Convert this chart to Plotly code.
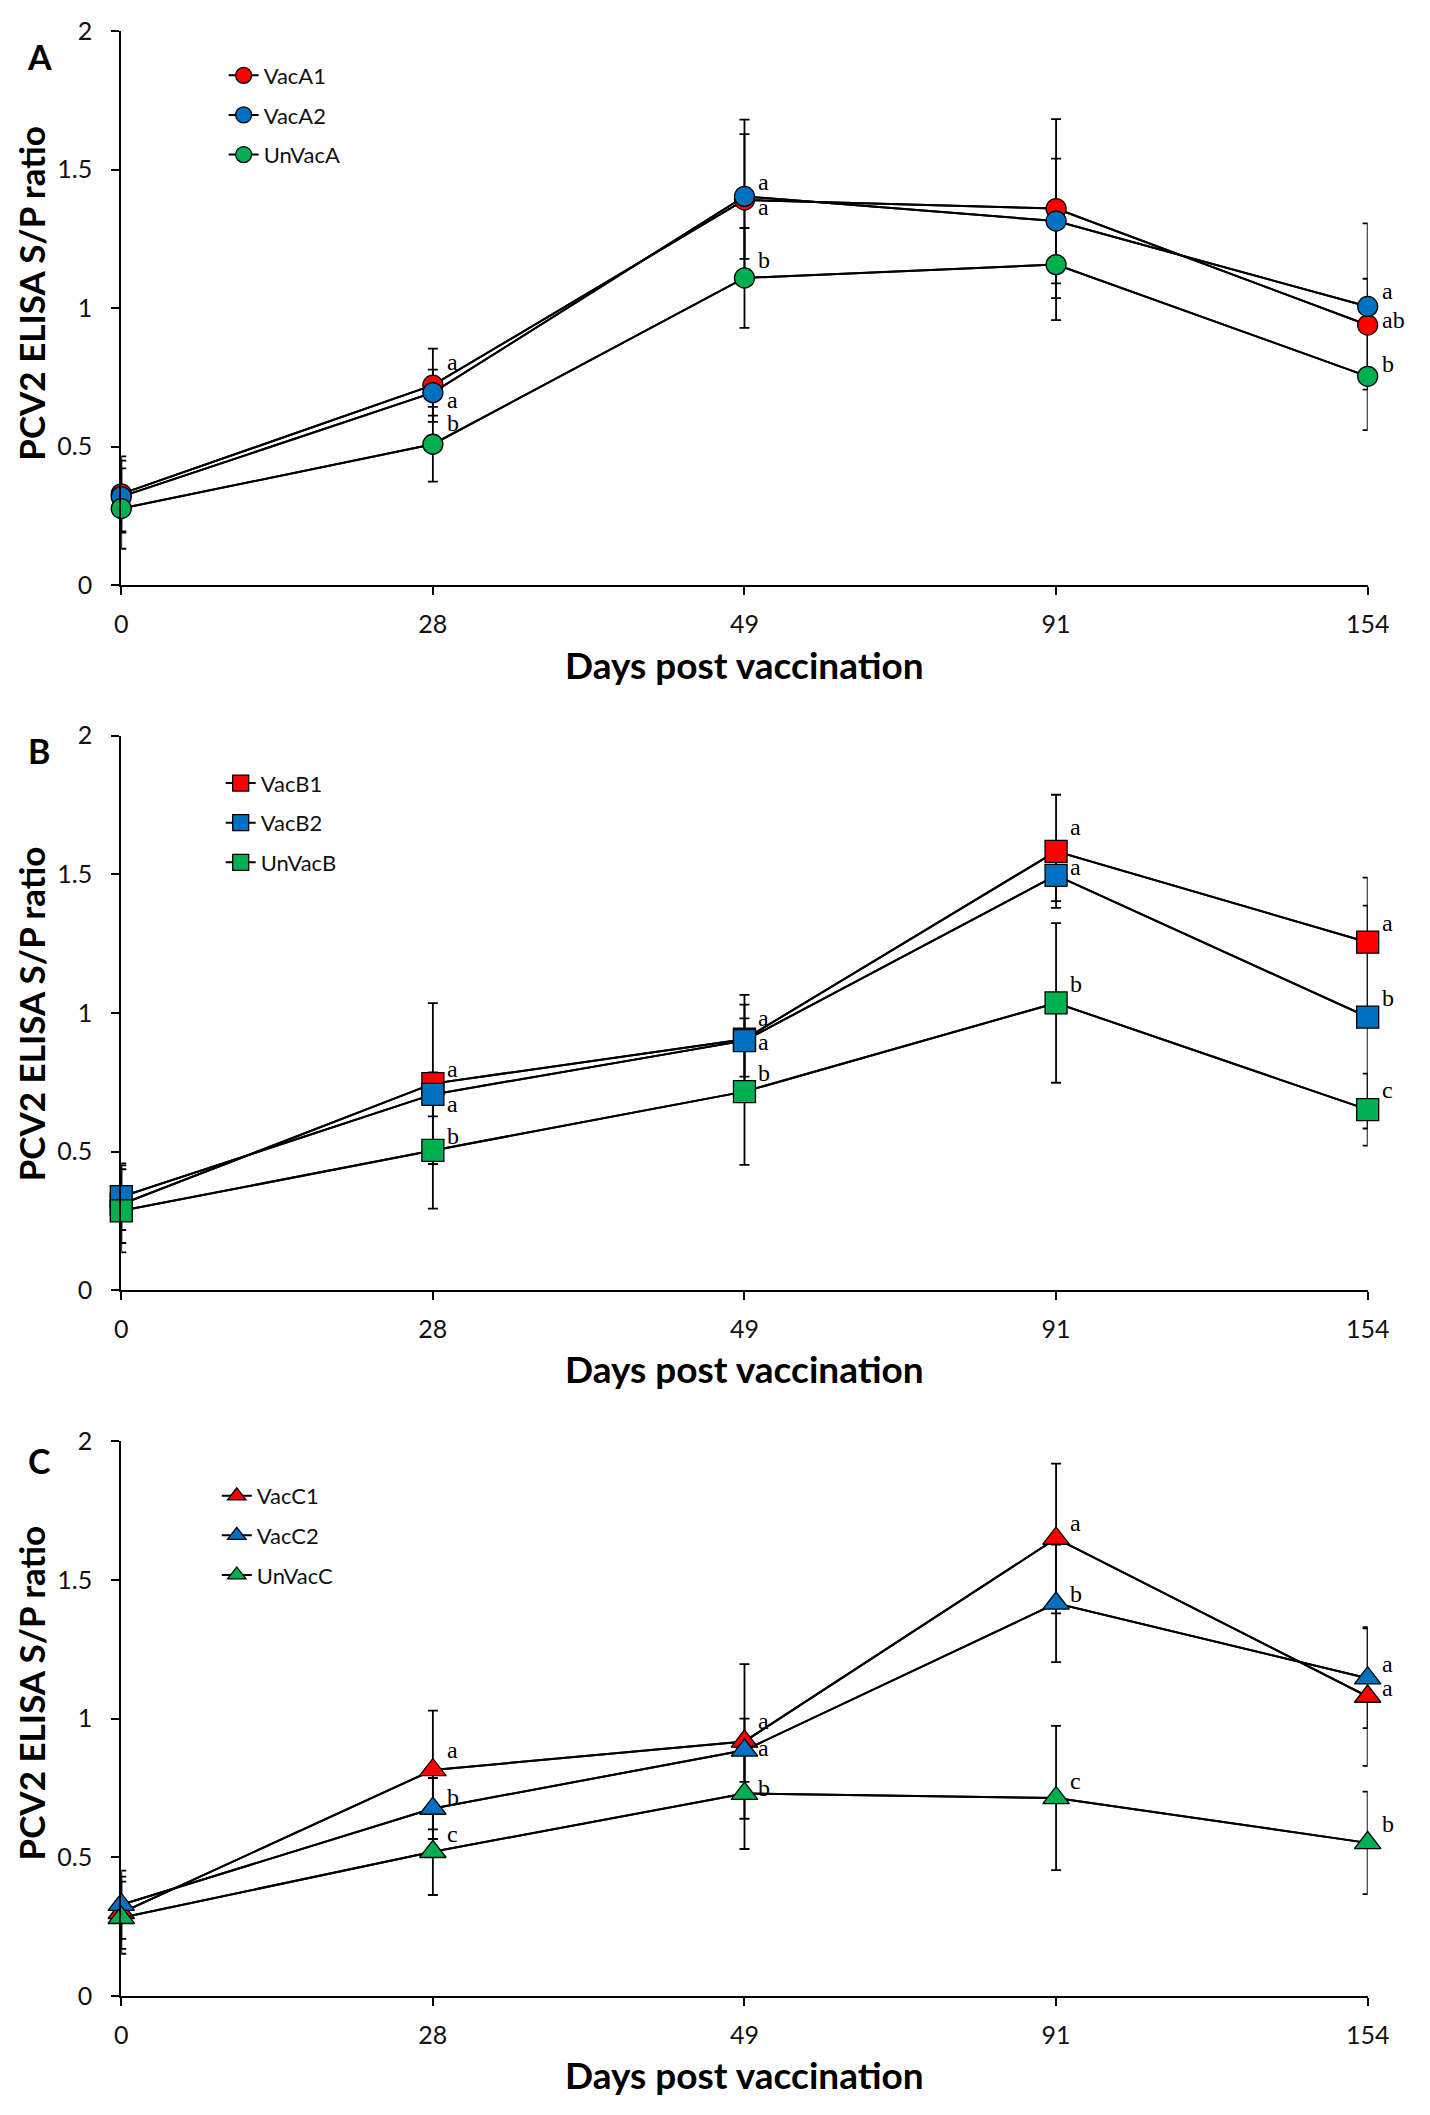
import plotly.graph_objects as go

# days post vaccination (categorical x axis)
days = ["0", "28", "49", "91", "154"]

# Panel A - means and error bars
vac_a1 = [0.33, 0.722, 1.39, 1.359, 0.939]
vac_a1_err = [0.135, 0.132, 0.29, 0.323, 0.167]
vac_a2 = [0.32, 0.695, 1.403, 1.314, 1.006]
vac_a2_err = [0.13, 0.083, 0.225, 0.225, 0.30]
unvac_a = [0.277, 0.509, 1.109, 1.157, 0.754]
unvac_a_err = [0.145, 0.135, 0.18, 0.20, 0.194]

# Panel B
vac_b1 = [0.31, 0.745, 0.905, 1.583, 1.255]
vac_b1_err = [0.14, 0.29, 0.16, 0.204, 0.233]
vac_b2 = [0.337, 0.706, 0.90, 1.496, 0.985]
vac_b2_err = [0.12, 0.079, 0.13, 0.093, 0.402]
unvac_b = [0.286, 0.504, 0.716, 1.036, 0.651]
unvac_b_err = [0.15, 0.21, 0.264, 0.288, 0.13]

# Panel C
vac_c1 = [0.30, 0.815, 0.918, 1.65, 1.08]
vac_c1_err = [0.13, 0.214, 0.279, 0.27, 0.25]
vac_c2 = [0.329, 0.676, 0.886, 1.416, 1.146]
vac_c2_err = [0.123, 0.11, 0.114, 0.212, 0.18]
unvac_c = [0.282, 0.52, 0.73, 0.714, 0.552]
unvac_c_err = [0.13, 0.156, 0.2, 0.26, 0.185]

# significance letters
a_let_day = ["28", "28", "28", "49", "49", "49", "154", "154", "154"]
a_let_y = [0.807, 0.67, 0.584, 1.454, 1.364, 1.173, 1.061, 0.958, 0.799]
a_let_txt = ["a", "a", "b", "a", "a", "b", "a", "ab", "b"]

b_let_day = ["28", "28", "28", "49", "49", "49", "91", "91", "91", "154", "154", "154"]
b_let_y = [0.799, 0.671, 0.555, 0.982, 0.894, 0.783, 1.669, 1.526, 1.106, 1.324, 1.053, 0.722]
b_let_txt = ["a", "a", "b", "a", "a", "b", "a", "a", "b", "a", "b", "c"]

c_let_day = ["28", "28", "28", "49", "49", "49", "91", "91", "91", "154", "154", "154"]
c_let_y = [0.886, 0.719, 0.584, 0.99, 0.894, 0.751, 1.706, 1.451, 0.775, 1.196, 1.109, 0.62]
c_let_txt = ["a", "b", "c", "a", "a", "b", "a", "b", "c", "a", "a", "b"]

colors = ["#FF0000", "#0070C0", "#00B050"]

panels = [
    dict(tag="A", names=["VacA1", "VacA2", "UnVacA"],
         means=[vac_a1, vac_a2, unvac_a], errs=[vac_a1_err, vac_a2_err, unvac_a_err],
         symbol="circle", size=20, letters=(a_let_day, a_let_y, a_let_txt)),
    dict(tag="B", names=["VacB1", "VacB2", "UnVacB"],
         means=[vac_b1, vac_b2, unvac_b], errs=[vac_b1_err, vac_b2_err, unvac_b_err],
         symbol="square", size=22, letters=(b_let_day, b_let_y, b_let_txt)),
    dict(tag="C", names=["VacC1", "VacC2", "UnVacC"],
         means=[vac_c1, vac_c2, unvac_c], errs=[vac_c1_err, vac_c2_err, unvac_c_err],
         symbol="triangle-up", size=23, letters=(c_let_day, c_let_y, c_let_txt)),
]

# pixel layout of the page (page coords); the html body has an 8px margin
PAGE_M = 8
W, H = 1430 - 2 * PAGE_M, 2115 - 2 * PAGE_M
x_left, x_right = 116.5, 1389
tops = [15, 730, 1446]
plot_h = 562.5
ytitle_mid = [281, 1012, 1701]
tag_y = [41, 745, 1465]
legend_mx = [246, 243, 239]
legend_row = [59, 777, 1500]


def px(p):
    return (p - PAGE_M) / W


def py(p):
    return 1 - (p - PAGE_M) / H


fig = go.Figure()
layout = dict(width=W, height=H, margin=dict(l=0, r=0, t=0, b=0),
              paper_bgcolor="white", plot_bgcolor="white", annotations=[])

for i, p in enumerate(panels):
    n = "" if i == 0 else str(i + 1)
    xa, ya = "x" + n, "y" + n
    top = tops[i]
    bot = top + plot_h
    leg = "legend" + n

    # lines + error bars underneath
    for k in range(3):
        fig.add_trace(go.Scatter(
            x=days, y=p["means"][k], xaxis=xa, yaxis=ya, mode="lines",
            line=dict(color="black", width=2), showlegend=False, cliponaxis=False,
            error_y=dict(type="data", array=p["errs"][k], symmetric=True,
                         color="black", thickness=1.8, width=5),
            hoverinfo="skip"))
    # markers on top
    for k in range(3):
        fig.add_trace(go.Scatter(
            x=days, y=p["means"][k], xaxis=xa, yaxis=ya, mode="lines+markers",
            name=p["names"][k], legend=leg, legendgroup=p["names"][k],
            line=dict(color="black", width=2), cliponaxis=False,
            marker=dict(symbol=p["symbol"], size=p["size"], color=colors[k],
                        line=dict(color="black", width=1.3))))

    layout["xaxis" + n] = dict(
        domain=[px(x_left), px(x_right)], anchor=ya, type="category",
        categoryorder="array", categoryarray=days, range=[0, 4],
        showline=True, linecolor="black", linewidth=2, showgrid=False, zeroline=False,
        ticks="outside", ticklen=8, tickwidth=2, tickcolor="black",
        ticklabelstandoff=8,
        tickfont=dict(family="Lato", size=25, color="#111"))
    layout["yaxis" + n] = dict(
        domain=[py(bot), py(top)], anchor=xa, range=[0, 2], tick0=0, dtick=0.5,
        showline=True, linecolor="black", linewidth=2, showgrid=False, zeroline=False,
        ticks="outside", ticklen=8, tickwidth=2, tickcolor="black",
        ticklabelstandoff=14,
        tickfont=dict(family="Lato", size=25, color="#111"))
    layout[leg] = dict(
        x=px(legend_mx[i] - 25), y=py(legend_row[i] - 20), xanchor="left", yanchor="top",
        font=dict(family="Lato", size=22, color="#111"), bgcolor="rgba(0,0,0,0)",
        tracegroupgap=8, traceorder="grouped")

    # significance letters (x given as category index)
    ld, lv, lt = p["letters"]
    for d, v, t in zip(ld, lv, lt):
        layout["annotations"].append(dict(
            x=days.index(d), y=v, xref=xa, yref=ya, text=t, showarrow=False,
            xanchor="left", yanchor="middle", xshift=12,
            font=dict(family="Liberation Serif", size=24, color="black")))

    # axis titles and panel tag
    layout["annotations"].append(dict(
        x=px((x_left + x_right) / 2), y=py(bot + 80), xref="paper", yref="paper",
        text="<b>Days post vaccination</b>", showarrow=False,
        xanchor="center", yanchor="middle",
        font=dict(family="Lato", size=37, color="black")))
    layout["annotations"].append(dict(
        x=px(24), y=py(ytitle_mid[i]), xref="paper", yref="paper",
        text="<b>PCV2 ELISA S/P ratio</b>", showarrow=False, textangle=-90,
        xanchor="center", yanchor="middle",
        font=dict(family="Lato", size=35, color="black")))
    layout["annotations"].append(dict(
        x=px(33), y=py(tag_y[i]), xref="paper", yref="paper",
        text="<b>" + p["tag"] + "</b>", showarrow=False,
        xanchor="center", yanchor="middle",
        font=dict(family="Lato", size=34, color="black")))

fig.update_layout(**layout)
fig.write_html("out.html")
